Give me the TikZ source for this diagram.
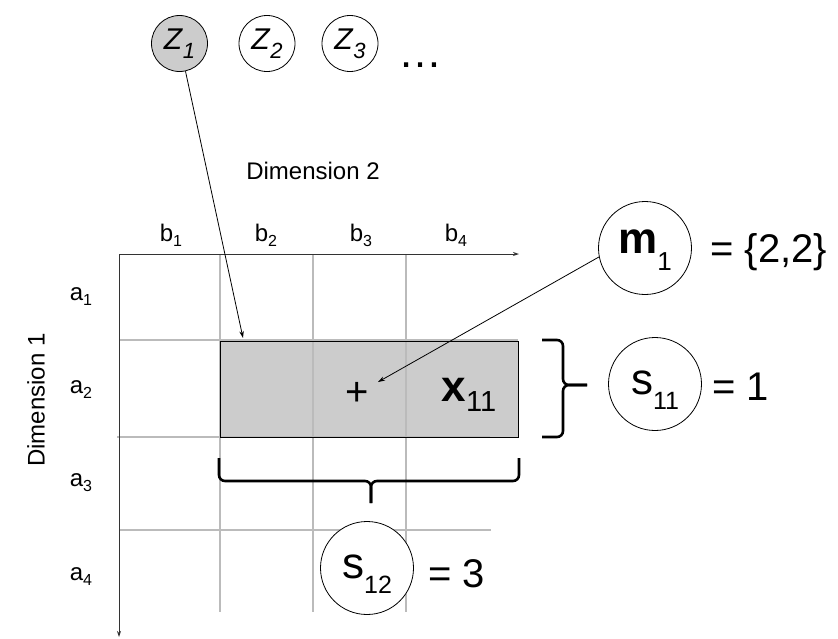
\documentclass[tikz,border=0pt]{standalone}
\usepackage{fontspec}
\setmainfont{Liberation Sans}
\usetikzlibrary{arrows.meta}
\definecolor{gridc}{HTML}{BBBBBB}
\definecolor{boxc}{HTML}{CCCCCC}
\definecolor{axisc}{HTML}{333333}
\newcommand{\fsz}[1]{\fontsize{#1}{#1}\selectfont}
% subscript: size, drop, text
\newcommand{\sbs}[3]{\raisebox{-#2pt}{\fsz{#1}#3}}
\begin{document}
\begin{tikzpicture}[x=1pt,y=-1pt,
  lab/.style={font=\fsz{24}, inner sep=0},
  big/.style={font=\fsz{40}, inner sep=0},
  circlab/.style={font=\fsz{44}, inner sep=0},
  zc/.style={circle, draw, line width=0.8pt, minimum size=56pt, inner sep=0, font=\fsz{30}},
  vc/.style={circle, draw, fill=white, line width=0.8pt, minimum size=93pt, inner sep=0},
  gridl/.style={draw=gridc, line width=1.2pt},
  axis/.style={draw=axisc, line width=1pt, -{Stealth[length=6pt,width=4pt]}},
  conn/.style={draw=black, line width=0.8pt, -{Stealth[length=7pt,width=4.5pt]}},
  brace/.style={draw=black, line width=2.6pt, rounded corners=6pt}
]
\useasboundingbox (0,0) rectangle (838,638);

% shaded box fill
\fill[boxc] (220,341) rectangle (518,437);

% grid
\draw[gridl] (220,254) -- (220,612);
\draw[gridl] (313,254) -- (313,612);
\draw[gridl] (406,254) -- (406,612);
\draw[gridl] (120,340) -- (518,340);
\draw[gridl] (117,437) -- (490,437);
\draw[gridl] (120,530) -- (491,530);

% box outline
\node[draw, line width=0.8pt, minimum width=298pt, minimum height=96pt, inner sep=0, anchor=north west] (box) at (220,341) {};

% axes
\coordinate (O) at (119,254);
\coordinate (xend) at (519,254);
\coordinate (yend) at (119,637);
\draw[axis] (O) -- (xend);
\draw[axis] (O) -- (yend);

% axis labels
\node[lab] (dim2) at (313,171) {Dimension 2};
\node[lab, rotate=90] (dim1) at (36,400) {Dimension 1};
\node[lab] (b1) at (171,235) {b\sbs{16}{5}{1}};
\node[lab] (b2) at (266,235) {b\sbs{16}{5}{2}};
\node[lab] (b3) at (361,235) {b\sbs{16}{5}{3}};
\node[lab] (b4) at (456,235) {b\sbs{16}{5}{4}};
\node[lab] (a1) at (81,297) {a\sbs{16}{5}{1}};
\node[lab] (a2) at (81,390) {a\sbs{16}{5}{2}};
\node[lab] (a3) at (81,483) {a\sbs{16}{5}{3}};
\node[lab] (a4) at (81,577) {a\sbs{16}{5}{4}};

% Z circles
\node[zc, fill=boxc] (Z1) at (179.5,43.5) {\textit{Z}\sbs{22}{9}{\textit{1}}};
\node[zc] (Z2) at (267,43.5) {\textit{Z}\sbs{22}{9}{\textit{2}}};
\node[zc] (Z3) at (350,43.5) {\textit{Z}\sbs{22}{9}{\textit{3}}};
\node[font=\fsz{44}, anchor=base, inner sep=0] (dots) at (420,67) {…};

% box contents
\node[font=\fsz{40}, inner sep=0] (plus) at (357,394) {+};
\node[font=\fsz{44}, inner sep=0] (x11) at (469,395) {\textbf{x}\sbs{29}{10}{11}};

% m1
\node[vc] (m1) at (645,248) {};
\node[circlab] (m1t) at ([yshift=-2pt]m1.center) {\textbf{m}\sbs{26}{17}{1}};
\node[big, anchor=west] (eqm) at (710,252) {= \{2,2\}};

% s11
\node[vc] (s11) at (655,384) {};
\node[circlab] (s11t) at ([yshift=-6pt]s11.center) {s\sbs{25}{15}{11}};
\node[big, anchor=west] (eqs11) at (712,387) {= 1};

% braces
\draw[brace] (542,340) -- (563,340) -- (563,385) -- (587,385);
\draw[brace] (542,437) -- (563,437) -- (563,385) -- (587,385);
\draw[brace] (219,458) -- (219,481) -- (371,481) -- (371,503);
\draw[brace] (519,458) -- (519,481) -- (371,481) -- (371,503);

% s12
\node[vc] (s12) at (367,568) {};
\node[circlab] (s12t) at ([yshift=-6pt]s12.center) {s\sbs{25}{15}{12}};
\node[big, anchor=west] (eqs12) at (428,574) {= 3};

% connectors
\coordinate (tA) at (243,338);
\coordinate (tB) at (378,382);
\draw[conn] (Z1) -- (tA);
\draw[conn] (m1.191) -- (tB);
\end{tikzpicture}
\end{document}
